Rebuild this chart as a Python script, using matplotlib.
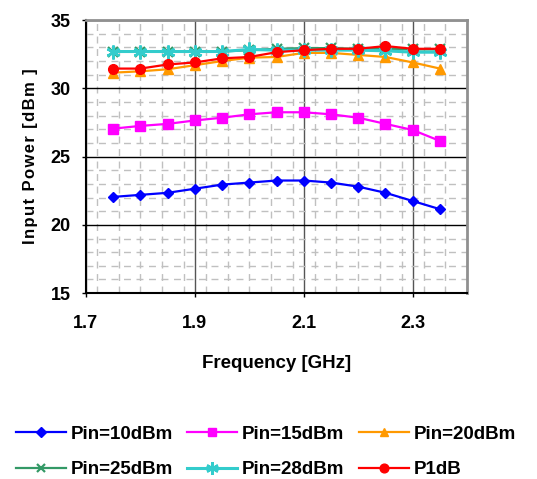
import numpy as np
import matplotlib.pyplot as plt
from matplotlib.ticker import MultipleLocator

plt.rcParams['font.family'] = ['Liberation Sans', 'DejaVu Sans']
plt.rcParams['font.weight'] = 'bold'

# frequency points (GHz)
freq = [1.75, 1.80, 1.85, 1.90, 1.95, 2.00, 2.05, 2.10, 2.15, 2.20, 2.25, 2.30, 2.35]

pin10 = [22.05, 22.2, 22.35, 22.65, 22.95, 23.1, 23.25, 23.25, 23.1, 22.8, 22.35, 21.75, 21.15]
pin15 = [27.05, 27.25, 27.4, 27.65, 27.85, 28.1, 28.25, 28.25, 28.1, 27.85, 27.4, 26.95, 26.15]
pin20 = [31.15, 31.25, 31.4, 31.7, 32.0, 32.25, 32.3, 32.6, 32.6, 32.45, 32.3, 31.9, 31.45]
pin25 = [32.7, 32.7, 32.7, 32.7, 32.7, 32.8, 32.9, 32.95, 32.95, 32.9, 32.9, 32.85, 32.85]
pin28 = [32.7, 32.7, 32.7, 32.7, 32.7, 32.85, 32.8, 32.8, 32.8, 32.8, 32.75, 32.65, 32.65]
p1db = [31.45, 31.45, 31.75, 31.9, 32.2, 32.3, 32.65, 32.8, 32.9, 32.9, 33.1, 32.9, 32.9]

labels = ['Pin=10dBm', 'Pin=15dBm', 'Pin=20dBm', 'Pin=25dBm', 'Pin=28dBm', 'P1dB']

fig = plt.figure(figsize=(5.37, 4.79), dpi=100)
ax = fig.add_axes([0.160, 0.388, 0.710, 0.570])

h = []
h += ax.plot(freq, pin10, color='#0000FF', marker='D', ms=5.5, lw=1.6)
h += ax.plot(freq, pin15, color='#FF00FF', marker='s', ms=6.5, lw=1.6)
h += ax.plot(freq, pin20, color='#FF9900', marker='^', ms=7, lw=1.6)
h += ax.plot(freq, pin25, color='#339966', marker='x', ms=6.5, mew=1.6, lw=1.6)
h += ax.plot(freq, pin28, color='#33CCCC', marker=(6, 2, 0), ms=10, mew=1.8, lw=2.2)
h += ax.plot(freq, p1db, color='#FF0000', marker='o', ms=7, lw=1.6)

ax.set_xlim(1.7, 2.4)
ax.set_ylim(15, 35)
ax.xaxis.set_minor_locator(MultipleLocator(0.04))
ax.yaxis.set_major_locator(MultipleLocator(5))
ax.yaxis.set_minor_locator(MultipleLocator(1))
ax.set_xticks([1.7, 1.9, 2.1, 2.3])

ax.grid(which='minor', color='#c0c0c0', ls=(0, (5, 4)), lw=1)
ax.grid(which='major', axis='y', color='black', lw=1)
ax.grid(which='major', axis='x', color='#555555', lw=1)
ax.set_axisbelow(True)

ax.tick_params(which='minor', length=0)
ax.tick_params(which='major', length=3, labelsize=13, width=1)
ax.tick_params(axis='y', pad=8)
ax.tick_params(axis='x', pad=13)

for s in ['left', 'bottom']:
    ax.spines[s].set_color('black')
    ax.spines[s].set_linewidth(1.5)
for s in ['top', 'right']:
    ax.spines[s].set_color('#909090')
    ax.spines[s].set_linewidth(2)

# letter-spaced axis title, as in the original
ytitle = '\u200a'.join('Input Power [dBm ]')
ax.set_ylabel(ytitle, fontsize=12, fontweight='bold', labelpad=9)
ax.set_xlabel('Frequency [GHz]', fontsize=13.5, fontweight='bold', labelpad=16)

order = [0, 3, 1, 4, 2, 5]
fig.legend([h[i] for i in order], [labels[i] for i in order], loc='lower center',
           bbox_to_anchor=(0.495, -0.034), ncol=3, frameon=False, fontsize=13.5,
           handlelength=2.67, columnspacing=0.75, handletextpad=0.27,
           labelspacing=1.0, markerscale=0.9)

fig.savefig('out.png', dpi=100)
